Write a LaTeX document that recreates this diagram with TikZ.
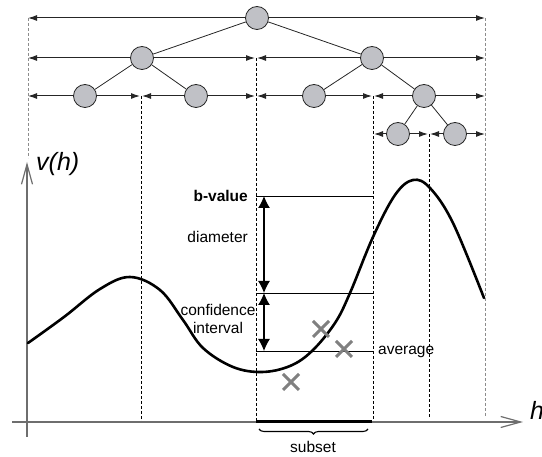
\documentclass[tikz,border=0pt]{standalone}
\usepackage{fontspec}
\setmainfont{Liberation Sans}
\usetikzlibrary{arrows.meta,shapes.misc,decorations.pathreplacing}
\definecolor{nodefill}{RGB}{192,193,198}
\definecolor{axisgray}{RGB}{110,110,110}
\definecolor{crossgray}{RGB}{128,128,128}
\definecolor{dashgray}{RGB}{140,140,140}
\begin{document}
\begin{tikzpicture}[x=1pt,y=-1pt,
  treenode/.style={circle,draw=black!85,fill=nodefill,minimum size=23pt,inner sep=0pt,line width=0.8pt},
  spanarrow/.style={draw=black!85,line width=1pt,-{Latex[length=9pt,width=6pt]}},
  treeedge/.style={draw=black!85,line width=0.8pt},
  darkdash/.style={draw=black,line width=0.7pt,dash pattern=on 3pt off 2pt},
  graydash/.style={draw=dashgray,line width=1pt,dash pattern=on 3pt off 2pt},
  axisline/.style={draw=axisgray,line width=1.5pt,-{Straight Barb[length=20pt,width=11pt,line width=1.2pt]}},
  levelline/.style={draw=black,line width=0.9pt},
  measarrow/.style={draw=black,line width=1.1pt,{Latex[length=12pt,width=12pt]}-{Latex[length=12pt,width=12pt]}},
  xmark/.style={cross out,draw=crossgray,line width=3pt,minimum size=13pt,inner sep=0pt},
  lab/.style={inner sep=0pt,font=\fontsize{15.5}{18}\selectfont},
  axlab/.style={inner sep=0pt,font=\fontsize{25}{28}\selectfont\itshape}
]
\useasboundingbox (0,0) rectangle (542,457);

% tree nodes
\node[treenode] (r) at (257,18) {};
\node[treenode] (a) at (142,58) {};
\node[treenode] (b) at (372,58) {};
\node[treenode] (aa) at (85,96) {};
\node[treenode] (ab) at (196,96) {};
\node[treenode] (ba) at (314,96) {};
\node[treenode] (bb) at (424,96) {};
\node[treenode] (bba) at (398,134) {};
\node[treenode] (bbb) at (455,134) {};

% span end coordinates
\coordinate (r1L) at (28,18);  \coordinate (r1R) at (485,18);
\coordinate (r2L) at (28,58);  \coordinate (r2M1) at (255,58); \coordinate (r2M2) at (257,58); \coordinate (r2R) at (485,58);
\coordinate (r3L) at (28,96);  \coordinate (r3A1) at (140,96); \coordinate (r3A2) at (142,96);
\coordinate (r3B1) at (255,96); \coordinate (r3B2) at (257,96);
\coordinate (r3C1) at (372,96); \coordinate (r3C2) at (374,96); \coordinate (r3R) at (485,96);
\coordinate (r4L) at (374,134); \coordinate (r4M1) at (428,134); \coordinate (r4M2) at (430,134); \coordinate (r4R) at (485,134);

% dashed verticals
\coordinate (d0t) at (28,18);  \coordinate (d0b) at (28,158);
\coordinate (d1t) at (141,96); \coordinate (d1b) at (141,422);
\coordinate (d2t) at (256,58); \coordinate (d2b) at (256,422);
\coordinate (d3t) at (373,96); \coordinate (d3b) at (373,422);
\coordinate (d4t) at (429,134); \coordinate (d4b) at (429,417);
\coordinate (d5t) at (485,18); \coordinate (d5b) at (485,417);
\draw[graydash] (d0t) -- (d0b);
\draw[graydash] (d5t) -- (d5b);
\draw[darkdash] (d1t) -- (d1b);
\draw[darkdash] (d2t) -- (d2b);
\draw[darkdash] (d3t) -- (d3b);
\draw[darkdash] (d4t) -- (d4b);

% tree edges
\draw[treeedge] (r) -- (a);
\draw[treeedge] (r) -- (b);
\draw[treeedge] (a) -- (aa);
\draw[treeedge] (a) -- (ab);
\draw[treeedge] (b) -- (ba);
\draw[treeedge] (b) -- (bb);
\draw[treeedge] (bb) -- (bba);
\draw[treeedge] (bb) -- (bbb);

% span arrows
\draw[spanarrow] (r.west) -- (r1L);
\draw[spanarrow] (r.east) -- (r1R);
\draw[spanarrow] (a.west) -- (r2L);
\draw[spanarrow] (a.east) -- (r2M1);
\draw[spanarrow] (b.west) -- (r2M2);
\draw[spanarrow] (b.east) -- (r2R);
\draw[spanarrow] (aa.west) -- (r3L);
\draw[spanarrow] (aa.east) -- (r3A1);
\draw[spanarrow] (ab.west) -- (r3A2);
\draw[spanarrow] (ab.east) -- (r3B1);
\draw[spanarrow] (ba.west) -- (r3B2);
\draw[spanarrow] (ba.east) -- (r3C1);
\draw[spanarrow] (bb.west) -- (r3C2);
\draw[spanarrow] (bb.east) -- (r3R);
\draw[spanarrow] (bba.west) -- (r4L);
\draw[spanarrow] (bba.east) -- (r4M1);
\draw[spanarrow] (bbb.west) -- (r4M2);
\draw[spanarrow] (bbb.east) -- (r4R);

% axes
\coordinate (xa0) at (12,422); \coordinate (xa1) at (523,422);
\coordinate (ya0) at (27,437); \coordinate (ya1) at (27,162);
\draw[axisline] (xa0) -- (xa1);
\draw[axisline] (ya0) -- (ya1);
\node[axlab,anchor=west] (vh) at (36,164) {v(h)};
\node[axlab,anchor=west] (hl) at (530,410) {h};

% subset segment and brace
\coordinate (s0) at (256,422); \coordinate (s1) at (372,422);
\draw[black,line width=3pt] (s0) -- (s1);
\coordinate (br0) at (259,429); \coordinate (br1) at (368,429);
\draw[black,line width=1.1pt,decorate,decoration={brace,mirror,amplitude=5pt}] (br0) -- (br1);
\node[lab] (subset) at (313,447) {subset};

% curve
\draw[black,line width=2.6pt,line cap=round] plot[smooth,tension=0.6] coordinates {
 (28,343) (64,317) (100,289) (130,277) (160,290) (183,320) (203,348) (233,367)
 (262,372) (290,366) (312,351) (335,323) (350,293) (373,237) (395,195) (413,180)
 (430,188) (453,223) (484,298)};

% level lines
\coordinate (l1a) at (256,196); \coordinate (l1b) at (373,196);
\coordinate (l2a) at (256,293); \coordinate (l2b) at (373,293);
\coordinate (l3a) at (256,351); \coordinate (l3b) at (373,351);
\draw[levelline] (l1a) -- (l1b);
\draw[levelline] (l2a) -- (l2b);
\draw[levelline] (l3a) -- (l3b);

% measure arrows
\coordinate (m1) at (264,196); \coordinate (m2) at (264,293); \coordinate (m3) at (264,351);
\draw[measarrow] (m1) -- (m2);
\draw[measarrow] (m2) -- (m3);

% labels
\node[lab,anchor=east,font=\fontsize{15.5}{18}\selectfont\bfseries] (bv) at (248,196) {b-value};
\node[lab,anchor=east] (dia) at (248,237) {diameter};
\node[lab,align=center] (ci) at (218,319) {confidence\\interval};
\node[lab,anchor=west] (avg) at (378,352) {average};

% crosses
\node[xmark] (x1) at (321,329) {};
\node[xmark] (x2) at (344,349) {};
\node[xmark] (x3) at (291,382) {};
\end{tikzpicture}
\end{document}
